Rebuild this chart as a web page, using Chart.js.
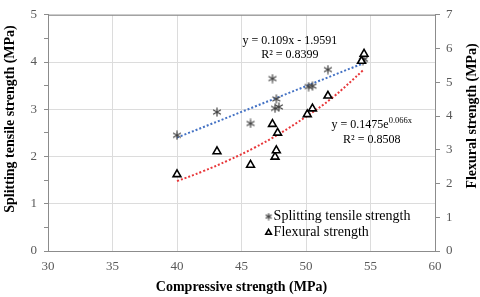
<!DOCTYPE html>
<html>
<head>
<meta charset="utf-8">
<script src="https://cdn.jsdelivr.net/npm/chart.js@4/dist/chart.umd.min.js"></script>
<style>
  html, body { margin: 0; padding: 0; background: #fff; }
  #wrap { width: 480px; height: 297px; position: relative; }
</style>
</head>
<body>
<div id="wrap"><canvas id="chart"></canvas></div>
<script>
// Compressive strength (MPa) for each specimen
const splitX = [40, 43.1, 45.7, 47.4, 47.7, 47.6, 47.9, 50.2, 50.5, 51.7, 54.4, 54.5];
const splitY = [2.45, 2.94, 2.70, 3.65, 3.22, 3.02, 3.05, 3.48, 3.49, 3.84, 4.03, 4.06];

const flexX = [40, 43.1, 45.7, 47.4, 47.6, 47.7, 47.8, 50.1, 50.5, 51.7, 54.3, 54.5];
const flexY = [2.27, 2.95, 2.55, 3.76, 2.79, 2.98, 3.50, 4.05, 4.22, 4.60, 5.63, 5.84];

// Trend lines
const linTrendX = [40, 54.5];
const linTrendY = [2.40, 3.98];
const expTrendX = [40, 42, 44, 46, 48, 50, 52, 54.5];
const expTrendY = [2.07, 2.36, 2.69, 3.06, 3.49, 3.98, 4.53, 5.38];

const SERIF = "'Liberation Serif', 'Times New Roman', serif";
const TICK_GREY = '#595959';
const AXIS_GREY = '#8c8c8c';

function pts(xs, ys) {
    return xs.map((x, i) => ({ x: x, y: ys[i] }));
}

// Excel-like asterisk: vertical bar plus an X (no horizontal bar)
function asteriskMarker(size, color) {
    const c = document.createElement('canvas');
    c.width = size;
    c.height = size;
    const g = c.getContext('2d');
    const m = size / 2, r = size / 2 - 0.5, d = r * 0.87;
    g.strokeStyle = color;
    g.lineWidth = 1.2;
    g.beginPath();
    g.moveTo(m, m - r); g.lineTo(m, m + r);
    g.moveTo(m - d, m - r * 0.5); g.lineTo(m + d, m + r * 0.5);
    g.moveTo(m - d, m + r * 0.5); g.lineTo(m + d, m - r * 0.5);
    g.stroke();
    return c;
}
const starBig = asteriskMarker(10, '#444');
const starSmall = asteriskMarker(8, '#444');

function rotatedTitle(ctx, text, x, y) {
    ctx.save();
    ctx.translate(x, y);
    ctx.rotate(-Math.PI / 2);
    ctx.textAlign = 'center';
    ctx.textBaseline = 'middle';
    ctx.fillStyle = '#000';
    ctx.font = 'bold 14px ' + SERIF;
    ctx.fillText(text, 0, 0);
    ctx.restore();
}

// Frame top, axis titles, equations and the inside legend
const decorPlugin = {
    id: 'decor',
    afterDraw(chart) {
        const { ctx, chartArea: a, scales } = chart;
        const xs = scales.x, ys = scales.y;
        ctx.save();
        ctx.strokeStyle = AXIS_GREY;
        ctx.lineWidth = 1;
        ctx.beginPath();
        ctx.moveTo(a.left, a.top + 0.5);
        ctx.lineTo(a.right, a.top + 0.5);
        ctx.stroke();

        rotatedTitle(ctx, 'Splitting tensile strength (MPa)', 10, 119);
        rotatedTitle(ctx, 'Flexural strength (MPa)', 472, 116);

        ctx.fillStyle = '#000';
        ctx.textBaseline = 'middle';
        ctx.textAlign = 'center';
        ctx.font = '12px ' + SERIF;
        ctx.fillText('y = 0.109x - 1.9591', xs.getPixelForValue(48.75), ys.getPixelForValue(4.45));
        ctx.fillText('R\u00b2 = 0.8399', xs.getPixelForValue(48.75), ys.getPixelForValue(4.16));

        // exponential equation with superscript
        const base = 'y = 0.1475e';
        const sup = '0.066x';
        ctx.font = '12px ' + SERIF;
        const wBase = ctx.measureText(base).width;
        ctx.font = '8.5px ' + SERIF;
        const wSup = ctx.measureText(sup).width;
        const cx = xs.getPixelForValue(55.1);
        const cy = ys.getPixelForValue(2.67);
        const left = cx - (wBase + wSup) / 2;
        ctx.textAlign = 'left';
        ctx.font = '12px ' + SERIF;
        ctx.fillText(base, left, cy);
        ctx.font = '8.5px ' + SERIF;
        ctx.fillText(sup, left + wBase, cy - 4);
        ctx.textAlign = 'center';
        ctx.font = '12px ' + SERIF;
        ctx.fillText('R\u00b2 = 0.8508', cx, ys.getPixelForValue(2.35));

        // legend
        const items = [
            { ds: chart.data.datasets[0], y: 0.73, style: starSmall, r: 4 },
            { ds: chart.data.datasets[1], y: 0.39, style: 'triangle', r: 3.2 }
        ];
        const lx = xs.getPixelForValue(47.1);
        items.forEach(it => {
            const py = ys.getPixelForValue(it.y);
            ctx.strokeStyle = it.ds.borderColor;
            ctx.fillStyle = it.ds.backgroundColor;
            ctx.lineWidth = it.ds.borderWidth;
            Chart.helpers.drawPoint(ctx, {
                pointStyle: it.style,
                radius: it.r,
                borderWidth: it.ds.borderWidth,
                rotation: 0
            }, lx, py);
            ctx.fillStyle = '#000';
            ctx.textAlign = 'left';
            ctx.font = '14px ' + SERIF;
            ctx.fillText(it.ds.label, lx + 5, py);
        });
        ctx.restore();
    }
};

const ctx = document.getElementById('chart').getContext('2d');
new Chart(ctx, {
    type: 'scatter',
    data: {
        datasets: [
            {
                label: 'Splitting tensile strength',
                data: pts(splitX, splitY),
                yAxisID: 'y',
                pointStyle: starBig,
                pointRadius: 5,
                borderColor: '#444',
                backgroundColor: '#444',
                borderWidth: 1,
                order: 1
            },
            {
                label: 'Flexural strength',
                data: pts(flexX, flexY),
                yAxisID: 'y2',
                pointStyle: 'triangle',
                pointRadius: 4.5,
                borderColor: '#000',
                backgroundColor: '#fff',
                borderWidth: 1.6,
                order: 0
            },
            {
                label: 'lin',
                type: 'line',
                data: pts(linTrendX, linTrendY),
                yAxisID: 'y',
                borderColor: '#4472c4',
                borderWidth: 2,
                borderDash: [2, 2],
                pointRadius: 0,
                order: 2
            },
            {
                label: 'exp',
                type: 'line',
                data: pts(expTrendX, expTrendY),
                yAxisID: 'y2',
                borderColor: '#e8373a',
                borderWidth: 2,
                borderDash: [2, 2],
                pointRadius: 0,
                tension: 0.4,
                order: 2
            }
        ]
    },
    options: {
        responsive: true,
        maintainAspectRatio: false,
        animation: false,
        layout: { padding: { top: 6, left: 0, right: 0, bottom: 0 } },
        plugins: {
            legend: { display: false },
            tooltip: { enabled: false }
        },
        scales: {
            x: {
                type: 'linear',
                min: 30,
                max: 60,
                afterFit: s => { s.height = 46; },
                ticks: {
                    stepSize: 5,
                    color: TICK_GREY,
                    padding: 8,
                    font: { family: SERIF, size: 13 }
                },
                grid: { color: '#dcdcdc', drawTicks: false },
                border: { color: AXIS_GREY },
                title: {
                    display: true,
                    text: 'Compressive strength (MPa)',
                    color: '#000',
                    font: { family: SERIF, size: 14, weight: 'bold' },
                    padding: { top: 0, bottom: 1 }
                }
            },
            y: {
                position: 'left',
                min: 0,
                max: 5,
                afterFit: s => { s.width = 48; },
                ticks: {
                    stepSize: 0.5,
                    color: TICK_GREY,
                    padding: 7,
                    font: { family: SERIF, size: 13 },
                    callback: v => (v % 1 === 0 ? v : '')
                },
                grid: {
                    color: c => (c.tick && c.tick.value % 1 === 0 ? '#dcdcdc' : 'rgba(0,0,0,0)'),
                    tickColor: AXIS_GREY,
                    tickLength: 4
                },
                border: { color: AXIS_GREY }
            },
            y2: {
                position: 'right',
                min: 0,
                max: 7,
                afterFit: s => { s.width = 45; },
                ticks: {
                    stepSize: 1,
                    color: TICK_GREY,
                    padding: 6,
                    font: { family: SERIF, size: 13 }
                },
                grid: { drawOnChartArea: false, tickColor: AXIS_GREY, tickLength: 5 },
                border: { color: AXIS_GREY }
            }
        }
    },
    plugins: [decorPlugin]
});
</script>
</body>
</html>
